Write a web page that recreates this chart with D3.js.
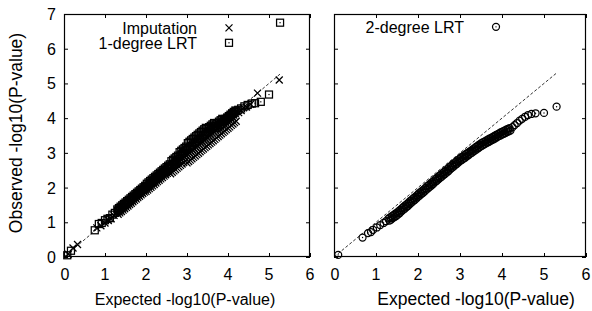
<!DOCTYPE html>
<html><head><meta charset="utf-8">
<script src="https://cdn.jsdelivr.net/npm/d3@7"></script>
<style>body{margin:0;background:#fff}svg{display:block}text{font-family:"Liberation Sans",Arial,Helvetica,sans-serif;fill:#000}</style>
</head><body>
<script>
const xTicks = [0,1,2,3,4,5,6];
const yTicks = [0,1,2,3,4,5,6,7];
const xTitle = "Expected -log10(P-value)";
const yTitle = "Observed -log10(P-value)";
const seriesNames = ["Imputation","1-degree LRT","2-degree LRT"];
const diagMax = 5.3;

// Expected quantiles of the dense part (shared by all series)
const denseExpected = [
1.30,1.32,1.34,1.36,1.38,1.40,1.42,1.44,1.46,1.48,1.50,1.52,1.54,1.56,1.58,1.60,1.62,1.64,1.66,1.68,
1.70,1.72,1.74,1.76,1.78,1.80,1.82,1.84,1.86,1.88,1.90,1.92,1.94,1.96,1.98,2.00,2.02,2.04,2.06,2.08,
2.10,2.12,2.14,2.16,2.18,2.20,2.22,2.24,2.26,2.28,2.30,2.32,2.34,2.36,2.38,2.40,2.42,2.44,2.46,2.48,
2.50,2.52,2.54,2.56,2.58,2.60,2.62,2.64,2.66,2.68,2.70,2.72,2.74,2.76,2.78,2.80,2.82,2.84,2.86,2.88,
2.90,2.92,2.94,2.96,2.98,3.00,3.02,3.04,3.06,3.08,3.10,3.12,3.14,3.16,3.18,3.20,3.22,3.24,3.26,3.28,
3.30,3.32,3.34,3.36,3.38,3.40,3.42,3.44,3.46,3.48,3.50,3.52,3.54,3.56,3.58,3.60,3.62,3.64,3.66,3.68,
3.70,3.72,3.74,3.76,3.78,3.80,3.82,3.84,3.86,3.88,3.90,3.92,3.94,3.96,3.98,4.00,4.02,4.04,4.06,4.08,
4.10,4.12,4.14,4.16,4.18,4.20];

// Imputation (crosses), observed for the dense part
const impDense = [
1.27,1.23,1.31,1.27,1.35,1.31,1.39,1.35,1.43,1.39,1.47,1.43,1.51,1.47,1.55,1.51,1.59,1.55,1.63,1.59,
1.67,1.63,1.71,1.67,1.75,1.71,1.79,1.75,1.83,1.79,1.87,1.83,1.91,1.87,1.95,1.89,1.99,1.93,2.03,1.97,
2.07,2.01,2.11,2.05,2.15,2.09,2.19,2.13,2.23,2.17,2.27,2.21,2.31,2.25,2.35,2.29,2.39,2.33,2.43,2.37,
2.47,2.41,2.51,2.45,2.55,2.40,2.59,2.44,2.63,2.48,2.67,2.52,2.71,2.56,2.75,2.60,2.77,2.64,2.81,2.68,
2.85,2.72,2.89,2.76,2.93,2.71,2.97,2.75,3.01,2.79,3.05,2.83,3.09,2.87,3.13,2.91,3.17,2.95,3.21,2.99,
3.25,3.03,3.29,3.07,3.33,3.11,3.37,3.15,3.41,3.19,3.45,3.23,3.49,3.27,3.53,3.31,3.57,3.35,3.61,3.39,
3.65,3.43,3.69,3.47,3.73,3.51,3.77,3.55,3.81,3.59,3.85,3.63,3.89,3.67,3.93,3.71,3.97,3.75,4.01,3.79,
4.05,3.83,4.09,3.87,4.13,3.91];
// Imputation, sparse points
const impSparseX = [0.10,0.22,0.33,0.80,0.90,1.00,1.08,1.15,1.22,4.26,4.32,4.38,4.45,4.55,4.72,5.25];
const impSparseY = [0.08,0.26,0.36,0.84,0.90,0.98,1.05,1.10,1.20,4.16,4.22,4.30,4.32,4.40,4.72,5.10];

// 1-degree LRT (squares), observed for the dense part
const lrt1Dense = [
1.37,1.33,1.41,1.37,1.45,1.41,1.49,1.45,1.53,1.49,1.57,1.53,1.61,1.57,1.65,1.61,1.69,1.65,1.73,1.69,
1.77,1.73,1.81,1.77,1.85,1.81,1.89,1.85,1.93,1.89,1.97,1.93,2.01,1.97,2.05,2.01,2.11,2.05,2.15,2.09,
2.19,2.13,2.23,2.17,2.27,2.21,2.31,2.25,2.35,2.29,2.39,2.33,2.43,2.37,2.47,2.41,2.51,2.45,2.55,2.49,
2.59,2.53,2.63,2.57,2.67,2.61,2.76,2.65,2.80,2.69,2.84,2.73,2.88,2.77,2.92,2.81,3.02,2.92,3.06,2.96,
3.10,3.00,3.14,3.04,3.18,3.08,3.28,3.12,3.32,3.16,3.36,3.20,3.40,3.24,3.44,3.28,3.48,3.32,3.52,3.36,
3.56,3.40,3.60,3.44,3.64,3.48,3.68,3.52,3.72,3.56,3.70,3.60,3.74,3.64,3.78,3.68,3.82,3.72,3.86,3.76,
3.82,3.72,3.86,3.76,3.90,3.80,3.94,3.84,3.98,3.88,3.94,3.92,3.98,3.96,4.02,4.00,4.06,4.04,4.10,4.08,
4.14,4.12,4.18,4.16,4.22,4.20];
// 1-degree LRT, sparse points
const lrt1SparseX = [0.08,0.17,0.75,0.85,0.92,1.00,1.06,1.12,1.18,1.24,4.25,4.32,4.40,4.48,4.58,4.66,4.80,5.00,5.27];
const lrt1SparseY = [0.05,0.18,0.77,0.95,0.98,1.06,1.10,1.12,1.22,1.27,4.24,4.28,4.34,4.38,4.42,4.43,4.47,4.68,6.75];

// 2-degree LRT (circles), observed for the dense part
const lrt2Dense = [
1.11,1.05,1.14,1.08,1.18,1.12,1.21,1.15,1.25,1.18,1.28,1.22,1.32,1.26,1.36,1.31,1.41,1.35,1.45,1.39,
1.49,1.43,1.53,1.47,1.57,1.52,1.62,1.56,1.66,1.60,1.70,1.64,1.74,1.68,1.78,1.73,1.83,1.77,1.87,1.81,
1.91,1.85,1.95,1.89,1.99,1.94,2.04,1.98,2.08,2.02,2.12,2.06,2.16,2.10,2.20,2.15,2.25,2.19,2.29,2.23,
2.33,2.27,2.37,2.31,2.41,2.35,2.45,2.39,2.49,2.43,2.53,2.47,2.58,2.52,2.62,2.56,2.66,2.60,2.70,2.64,
2.74,2.68,2.78,2.72,2.82,2.76,2.86,2.79,2.89,2.83,2.93,2.86,2.96,2.90,3.00,2.93,3.03,2.97,3.06,3.00,
3.10,3.04,3.13,3.07,3.17,3.10,3.20,3.14,3.24,3.17,3.27,3.20,3.30,3.23,3.32,3.26,3.35,3.29,3.38,3.31,
3.41,3.34,3.43,3.37,3.46,3.39,3.49,3.42,3.52,3.45,3.54,3.48,3.57,3.50,3.60,3.53,3.62,3.55,3.64,3.57,
3.67,3.60,3.69,3.62,3.71,3.64];
// 2-degree LRT, sparse points
const lrt2SparseX = [0.10,0.68,0.81,0.88,0.93,1.02,1.10,1.18,1.24,4.25,4.30,4.36,4.42,4.48,4.55,4.62,4.70,4.80,5.00,5.30];
const lrt2SparseY = [0.06,0.56,0.69,0.72,0.78,0.85,0.92,0.98,1.03,3.74,3.80,3.86,3.93,3.98,4.04,4.09,4.12,4.14,4.15,4.33];

const W = 592, H = 311;
const svg = d3.select("body").append("svg").attr("width", W).attr("height", H);
svg.append("rect").attr("width", W).attr("height", H).attr("fill", "#fff");

const y = d3.scaleLinear().domain([0,7]).range([257,14]);
const xL = d3.scaleLinear().domain([0,6]).range([64,310]);
const xR = d3.scaleLinear().domain([0,6]).range([334,586]);
const FS = 16, TL = 4;

function frame(x, showY, titleX, titleFS) {
  const g = svg.append("g");
  const [x0,x1] = x.range(), [y0,y1] = y.range();
  g.append("g").attr("transform",`translate(0,${y0})`).call(d3.axisBottom(x).tickValues(xTicks).tickSizeInner(-TL).tickSizeOuter(0).tickFormat(""));
  g.append("g").attr("transform",`translate(0,${y1})`).call(d3.axisTop(x).tickValues(xTicks).tickSizeInner(-TL).tickSizeOuter(0).tickFormat(""));
  g.append("g").attr("transform",`translate(${x0},0)`).call(d3.axisLeft(y).tickValues(yTicks).tickSizeInner(-TL).tickSizeOuter(0).tickFormat(""));
  g.append("g").attr("transform",`translate(${x1},0)`).call(d3.axisRight(y).tickValues(yTicks).tickSizeInner(-TL).tickSizeOuter(0).tickFormat(""));
  g.selectAll(".domain").remove();
  g.selectAll(".tick line").attr("stroke","#000").attr("stroke-width",1);
  g.append("rect").attr("x",x0+0.5).attr("y",y1+0.5).attr("width",x1-x0-1).attr("height",y0-y1-1)
    .attr("fill","none").attr("stroke","#000").attr("stroke-width",1.2);
  g.selectAll(".xl").data(xTicks).enter().append("text")
    .attr("x",d=>x(d)+(d===0?1:0)).attr("y",y0+23).attr("text-anchor","middle").attr("font-size",FS).text(d=>d);
  if (showY) {
    g.selectAll(".yl").data(yTicks).enter().append("text")
      .attr("x",x0-8).attr("y",d=>y(d)+6).attr("text-anchor","end").attr("font-size",FS).text(d=>d);
  }
  g.append("text").attr("x",titleX).attr("y",305).attr("text-anchor","middle").attr("font-size",titleFS).text(xTitle);
  svg.append("line").attr("x1",x(0)).attr("y1",y(0)).attr("x2",x(diagMax)).attr("y2",y(diagMax))
    .attr("stroke","#000").attr("stroke-width",0.8).attr("stroke-dasharray","3,2");
}

frame(xL, true, 185, 16);
frame(xR, false, 476, 17.5);

svg.append("text").attr("transform",`translate(22,133) rotate(-90)`).attr("text-anchor","middle")
  .attr("font-size",17.5).text(yTitle);

const S = 3.5, SW = 1.25;
function cross(g, cx, cy){ g.append("path").attr("d",`M${cx-S},${cy-S}L${cx+S},${cy+S}M${cx-S},${cy+S}L${cx+S},${cy-S}`).attr("stroke","#000").attr("stroke-width",SW).attr("fill","none"); }
function square(g, cx, cy){ g.append("rect").attr("x",cx-S).attr("y",cy-S).attr("width",2*S).attr("height",2*S).attr("fill","none").attr("stroke","#000").attr("stroke-width",SW);
  g.append("rect").attr("x",cx-0.6).attr("y",cy-0.6).attr("width",1.2).attr("height",1.2).attr("fill","#000"); }
function circle(g, cx, cy){ g.append("circle").attr("cx",cx).attr("cy",cy).attr("r",S).attr("fill","none").attr("stroke","#000").attr("stroke-width",SW);
  g.append("circle").attr("cx",cx).attr("cy",cy).attr("r",0.7).attr("fill","#000"); }

const gImp = svg.append("g"), gL1 = svg.append("g"), gL2 = svg.append("g");
denseExpected.forEach((v,i)=>cross(gImp, xL(v), y(impDense[i])));
impSparseX.forEach((v,i)=>cross(gImp, xL(v), y(impSparseY[i])));
denseExpected.forEach((v,i)=>square(gL1, xL(v), y(lrt1Dense[i])));
lrt1SparseX.forEach((v,i)=>square(gL1, xL(v), y(lrt1SparseY[i])));
denseExpected.forEach((v,i)=>circle(gL2, xR(v), y(lrt2Dense[i])));
lrt2SparseX.forEach((v,i)=>circle(gL2, xR(v), y(lrt2SparseY[i])));

// legends
const leg = svg.append("g");
const lt = leg.append("text").attr("text-anchor","end").attr("font-size",FS);
lt.append("tspan").attr("x",197).attr("y",y(6.6)+6).text(seriesNames[0]);
lt.append("tspan").attr("x",197).attr("y",y(6.17)+6).text(seriesNames[1]);
cross(leg, 229, y(6.6));
square(leg, 229, y(6.17));
leg.append("text").attr("x",464).attr("y",y(6.63)+6).attr("text-anchor","end").attr("font-size",FS).text(seriesNames[2]);
circle(leg, 496, y(6.63));
</script>
</body></html>
